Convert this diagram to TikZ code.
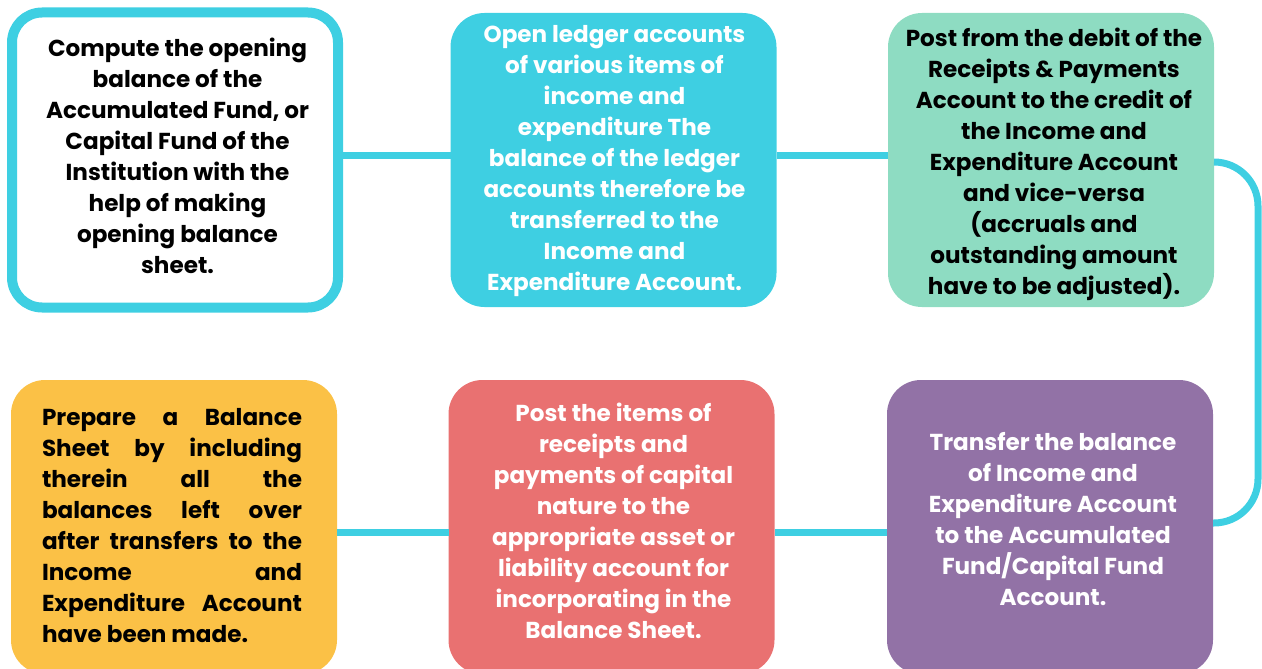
\documentclass[tikz,border=0pt]{standalone}
\usepackage{fontspec}
\setmainfont{Poppins}[BoldFont={* Bold}]
\definecolor{cy}{HTML}{3ECFE2}
\definecolor{mint}{HTML}{8EDCC2}
\definecolor{purp}{HTML}{9272A6}
\definecolor{salm}{HTML}{E97171}
\definecolor{yel}{HTML}{FBC146}
\tikzset{
  box/.style={rectangle, rounded corners=34pt, minimum width=326pt, minimum height=294pt, outer sep=0pt, inner sep=0pt},
  txt/.style={align=center, font=\fontsize{23.1}{31}\selectfont\bfseries, inner sep=0pt},
  conn/.style={draw=cy, line width=7pt},
}
\begin{document}
\begin{tikzpicture}[x=1pt,y=-1pt]
\useasboundingbox (0,0) rectangle (1262,669);
\node[box, draw=cy, line width=10pt, fill=white, minimum width=326pt, minimum height=295pt, rounded corners=30pt] (b1) at (175,160) {};
\node[box, fill=cy] (b2) at (613.5,160) {};
\node[box, fill=mint] (b3) at (1051,160) {};
\node[box, fill=purp] (b4) at (1050,527) {};
\node[box, fill=salm] (b5) at (611.5,527) {};
\node[box, fill=yel] (b6) at (174,527) {};

\draw[conn] ([yshift=4.5pt]b1.east) -- ([yshift=4.5pt]b2.west);
\draw[conn] ([yshift=4.5pt]b2.east) -- ([yshift=4.5pt]b3.west);
\draw[conn, rounded corners=44pt] ([yshift=-2pt]b3.east) -- ++(44,0) |- ([yshift=4pt]b4.east);
\draw[conn] ([yshift=-5pt]b4.west) -- ([yshift=-5pt]b5.east);
\draw[conn] ([yshift=-5pt]b5.west) -- ([yshift=-5pt]b6.east);

\node[txt, text=black] (t1) at (177.5,156) {Compute the opening\\balance of the\\Accumulated Fund, or\\Capital Fund of the\\Institution with the\\help of making\\opening balance\\sheet.};
\node[txt, text=white] (t2) at (614.5,161.5) {Open ledger accounts\\of various items of\\income and\\expenditure The\\balance of the ledger\\accounts therefore be\\transferred to the\\Income and\\Expenditure Account.};
\node[txt, text=black] (t3) at (1054,164) {Post from the debit of the\\Receipts \& Payments\\Account to the credit of\\the Income and\\Expenditure Account\\and vice-versa\\(accruals and\\outstanding amount\\have to be adjusted).};
\node[txt, text=white] (t4) at (1053,519.5) {Transfer the balance\\of Income and\\Expenditure Account\\to the Accumulated\\Fund/Capital Fund\\Account.};
\node[txt, text=white] (t5) at (613.5,520.5) {Post the items of\\receipts and\\payments of capital\\nature to the\\appropriate asset or\\liability account for\\incorporating in the\\Balance Sheet.};
\node[txt, text=black, align=left] (t6) at (172,525.5) {\makebox[260pt][s]{Prepare a Balance}\\\makebox[260pt][s]{Sheet by including}\\\makebox[260pt][s]{therein all the}\\\makebox[260pt][s]{balances left over}\\\makebox[260pt][s]{after transfers to the}\\\makebox[260pt][s]{Income and}\\\makebox[260pt][s]{Expenditure Account}\\have been made.};
\end{tikzpicture}
\end{document}
